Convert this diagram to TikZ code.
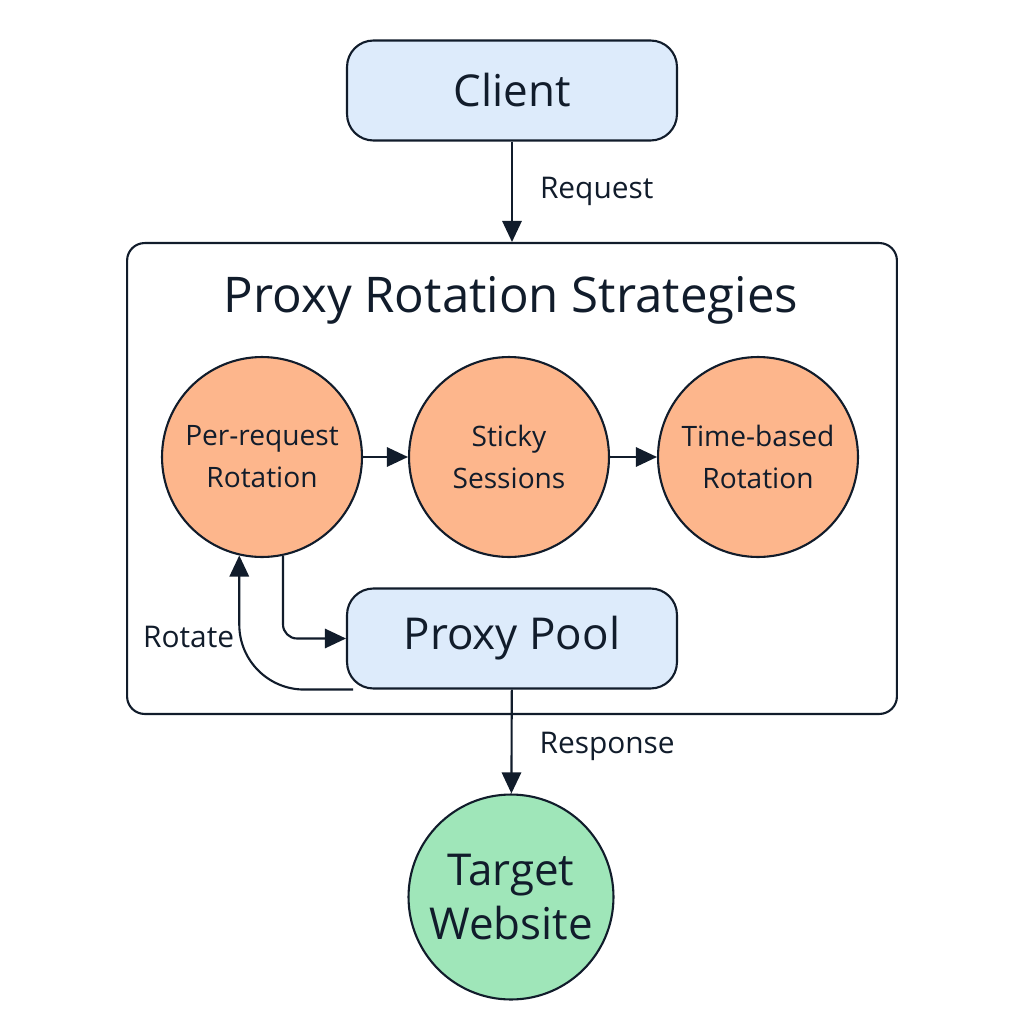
\documentclass[tikz,border=0pt]{standalone}
\usepackage{fontspec}
\setmainfont{Open Sans}
\usetikzlibrary{arrows.meta}
\definecolor{ink}{HTML}{111C2B}
\definecolor{boxblue}{HTML}{DDEBFB}
\definecolor{peach}{HTML}{FDB68C}
\definecolor{mint}{HTML}{9FE6B9}
\begin{document}
\begin{tikzpicture}[x=0.02cm, y=-0.02cm, line width=1.2pt, draw=ink, text=ink,
  box/.style={draw, rounded corners=15pt, fill=boxblue, minimum width=6.6cm, minimum height=2cm, font=\fontsize{25}{30}\selectfont},
  strategy/.style={draw, circle, fill=peach, minimum size=4cm, inner sep=0pt, align=center, font=\fontsize{16}{24}\selectfont},
  lbl/.style={font=\fontsize{17}{20}\selectfont},
  flow/.style={-{Triangle[length=12pt, width=11pt]}}]
\useasboundingbox (0,0) rectangle (1024,1024);
\node[draw, rounded corners=10pt, minimum width=15.4cm, minimum height=9.42cm] (frame) at (512,478.5) {};
\node[font=\fontsize{28}{32}\selectfont] (title) at (511,300) {Proxy Rotation Strategies};
\node[box] (client) at (512,90.5) {Client};
\node[strategy] (perreq) at (262,457) {Per-request\\Rotation};
\node[strategy] (sticky) at (509,457) {Sticky\\Sessions};
\node[strategy] (timed) at (758,457) {Time-based\\Rotation};
\node[box] (pool) at (512,638.5) {Proxy Pool};
\node[draw, circle, fill=mint, minimum size=4.1cm, inner sep=0pt, align=center, font=\fontsize{25}{31}\selectfont] (target) at (511,897) {Target\\Website};
\node[lbl, anchor=east] (rot) at (241,637) {Rotate};
\draw[flow] (client) -- node[lbl, right=12pt] (req) {Request} (frame.north -| client);
\draw[flow] (perreq) -- (sticky);
\draw[flow] (sticky) -- (timed);
\draw[flow, rounded corners=8pt] (perreq.-78) -- (perreq.-78 |- pool.west) -- (pool.west);
\draw[flow, rounded corners=1.3cm] ([xshift=4pt]pool.south west) -- (perreq.-103 |- pool.south) -- (perreq.-103);
\draw[flow] (pool) -- node[lbl, right=12pt, pos=0.55] (resp) {Response} (target);
\end{tikzpicture}
\end{document}
